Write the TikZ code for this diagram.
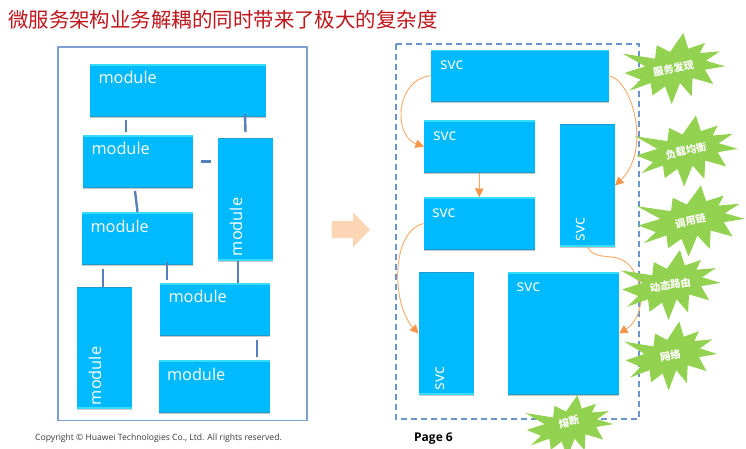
\documentclass[tikz,border=0pt]{standalone}
\usepackage{fontspec}
\setmainfont{Open Sans}
\newfontfamily\cjkfont{Noto Sans CJK SC}
\usetikzlibrary{shadows,arrows.meta}
\definecolor{boxfill}{HTML}{00BAFF}
\definecolor{boxlight}{HTML}{38DCFB}
\definecolor{boxdark}{HTML}{1A9CCC}
\definecolor{framecol}{HTML}{7F9FD0}
\definecolor{dashcol}{HTML}{6A94CC}
\definecolor{stubcol}{HTML}{5580BA}
\definecolor{flowcol}{HTML}{F8A868}
\definecolor{tipcol}{HTML}{F79646}
\definecolor{burstcol}{HTML}{93D250}
\definecolor{bigarrow}{HTML}{FCD5B5}
\definecolor{titlecol}{HTML}{C0161C}
\definecolor{copycol}{HTML}{3A3A3A}
\tikzset{
  x=1pt,y=-1pt,
  basebox/.style={fill=boxfill,inner sep=0pt,outer sep=0pt,
    drop shadow={shadow xshift=0pt,shadow yshift=-1.2pt,opacity=.35,fill=black!60}},
  hbox/.style={basebox,path picture={
    \fill[boxlight] (path picture bounding box.north west) rectangle ([yshift=-1.8pt]path picture bounding box.north east);
    \fill[boxdark] ([yshift=1.2pt]path picture bounding box.south west) rectangle (path picture bounding box.south east);}},
  vbox/.style={basebox,path picture={
    \fill[boxdark] (path picture bounding box.north west) rectangle ([yshift=-1.2pt]path picture bounding box.north east);
    \fill[boxlight] ([yshift=1.8pt]path picture bounding box.south west) rectangle (path picture bounding box.south east);}},
  boxtext/.style={text=white,inner sep=0pt,outer sep=0pt,anchor=base west,font=\fontsize{16.3}{18}\selectfont},
  svctext/.style={boxtext,font=\fontsize{16}{18}\selectfont},
  stub/.style={draw=stubcol,line width=2.4pt},
  flow/.style={draw=flowcol,line width=.9pt,-{Triangle[length=8.5pt,width=8.5pt,color=tipcol]}},
  bursttext/.style={text=white,inner sep=0pt,font=\cjkfont\bfseries\fontsize{10.3}{12}\selectfont},
}
\newcommand{\burstshape}{(29.5,-106.5) -- (44.5,-59.5) -- (94.5,-76.5) -- (79.5,-46.5) -- (139.5,-51.5) -- (97.5,-23.5) -- (154.5,-6.5) -- (94.5,3.5) -- (119.5,46.5) -- (57.5,28.5) -- (54.5,83.5) -- (19.5,43.5) -- (-5.5,106.5) -- (-25.5,53.5) -- (-63.5,81.5) -- (-68.5,43.5) -- (-132.5,66.5) -- (-98.5,33.5) -- (-147.5,13.5) -- (-85.5,-6.5) -- (-152.5,-44.5) -- (-55.5,-29.5) -- (-50.5,-69.5) -- (-10.5,-49.5) -- cycle}
% name, cx, cy, width, height, rotation, text
\newcommand{\burstat}[7]{%
  \fill[burstcol,shift={(#2,#3)},xscale=#4/307,yscale=#5/213] \burstshape;
  \node[bursttext,rotate=#6] (#1) at (#2,#3) {#7};}
\begin{document}
\begin{tikzpicture}
\path[use as bounding box,fill=white] (0,0) rectangle (746,448);

\node[anchor=west,inner sep=0pt,text=titlecol,font=\cjkfont\fontsize{20.45}{24}\selectfont] (title) at (8,20) {微服务架构业务解耦的同时带来了极大的复杂度};

% left frame
\draw[framecol,line width=1.3pt] (58,47) rectangle (307,420.5);
\node[hbox,minimum width=176.5pt,minimum height=53pt] (m1) at (177.75,90.5) {};
\node[hbox,minimum width=110pt,minimum height=53pt] (m2) at (138,161.5) {};
\node[hbox,minimum width=111pt,minimum height=53pt] (m3) at (137.5,238.5) {};
\node[vbox,minimum width=55pt,minimum height=123pt] (mv) at (245.5,199.5) {};
\node[vbox,minimum width=55pt,minimum height=122pt] (m4) at (104.5,348) {};
\node[hbox,minimum width=110pt,minimum height=53pt] (m5) at (215,309.5) {};
\node[hbox,minimum width=111pt,minimum height=53pt] (m6) at (214.5,386.5) {};
\node[boxtext] (t1) at (98.5,83.5) {module};
\node[boxtext] (t2) at (91.5,154.5) {module};
\node[boxtext] (t3) at (90.5,232) {module};
\node[boxtext,rotate=90] (tv) at (242,256) {module};
\node[boxtext,rotate=90] (t4) at (101,405) {module};
\node[boxtext] (t5) at (168.5,302.7) {module};
\node[boxtext] (t6) at (167,380.7) {module};

\draw[stub] ([xshift=-51.75pt,yshift=-3pt]m1.south) -- ([xshift=-12pt,yshift=3pt]m2.north);
\draw[stub] ([xshift=67.25pt,yshift=3pt]m1.south) -- ([yshift=6pt]mv.north);
\draw[stub] ([xshift=8pt]m2.east) -- ([xshift=-7pt,yshift=38pt]mv.west);
\draw[stub] ([xshift=-3pt,yshift=-3pt]m2.south) -- (m3.north);
\draw[stub] ([xshift=-34.5pt,yshift=-4pt]m3.south) -- ([xshift=-1.5pt]m4.north);
\draw[stub] ([xshift=29.5pt,yshift=3pt]m3.south) -- ([xshift=-48pt,yshift=3pt]m5.north);
\draw[stub] ([xshift=-7.5pt]mv.south) -- ([xshift=23pt]m5.north);
\draw[stub] ([xshift=42pt,yshift=-4pt]m5.south) -- ([xshift=42.5pt,yshift=3pt]m6.north);

% big arrow
\fill[bigarrow] (331.7,221) -- (353,221) -- (353,212.3) -- (370,229.7) -- (353,247.3) -- (353,238) -- (331.7,238) -- cycle;

% right frame
\draw[dashcol,line width=1.2pt,dash pattern=on 6pt off 4pt] (396,44) rectangle (639,419);
\node[hbox,minimum width=177.5pt,minimum height=52.5pt] (s1) at (519.75,75.75) {};
\node[hbox,minimum width=111pt,minimum height=53pt] (s2) at (479.5,146.5) {};
\node[hbox,minimum width=111.5pt,minimum height=53pt] (s3) at (479.25,223.5) {};
\node[vbox,minimum width=55pt,minimum height=123pt] (sv) at (587.5,185.5) {};
\node[vbox,minimum width=55.5pt,minimum height=123pt] (s4) at (446.25,333.5) {};
\node[hbox,minimum width=111pt,minimum height=123pt] (s5) at (563.5,333.5) {};
\node[svctext] (u1) at (440,69.3) {svc};
\node[svctext] (u2) at (433,140) {svc};
\node[svctext] (u3) at (432,217) {svc};
\node[svctext,rotate=90] (uv) at (584.7,241) {svc};
\node[svctext,rotate=90] (u4) at (444,390) {svc};
\node[svctext] (u5) at (516.7,291.7) {svc};

\draw[flow] (s1.west) .. controls (395,79) and (393,136) .. (s2.west);
\draw[flow] (s1.east) .. controls (632,79) and (652,150) .. (sv.east);
\draw[flow] (s2.south) -- (s3.north);
\draw[flow] (s3.west) .. controls (390,232) and (392,305) .. (s4.west);
\draw[flow] (sv.south) .. controls (596,263) and (616,250) .. (630,266) .. controls (646,285) and (644,318) .. (s5.east);

% bursts
\burstat{b1}{673.5}{68.5}{102}{71}{12}{服务发现}
\burstat{b2}{686}{151}{103}{71}{12}{负载均衡}
\burstat{b3}{690.5}{221}{108}{71}{12}{调用链}
\burstat{b4}{670.3}{285}{100}{70}{9}{动态路由}
\burstat{b5}{670.3}{356}{93}{69}{10}{网络}
\fill[burstcol,shift={(569,426)},xscale=88/307,yscale=62/213] \burstshape;
\node[bursttext,rotate=14] (b6) at (569,422) {熔断};

\node[anchor=west,inner sep=0pt,text=copycol,font=\fontsize{8.6}{11}\selectfont] (copy) at (35,438) {Copyright © Huawei Technologies Co., Ltd. All rights reserved.};
\node[anchor=west,inner sep=0pt,text=black,font=\bfseries\fontsize{12}{14}\selectfont] (page) at (414,439) {Page 6};
\end{tikzpicture}
\end{document}
